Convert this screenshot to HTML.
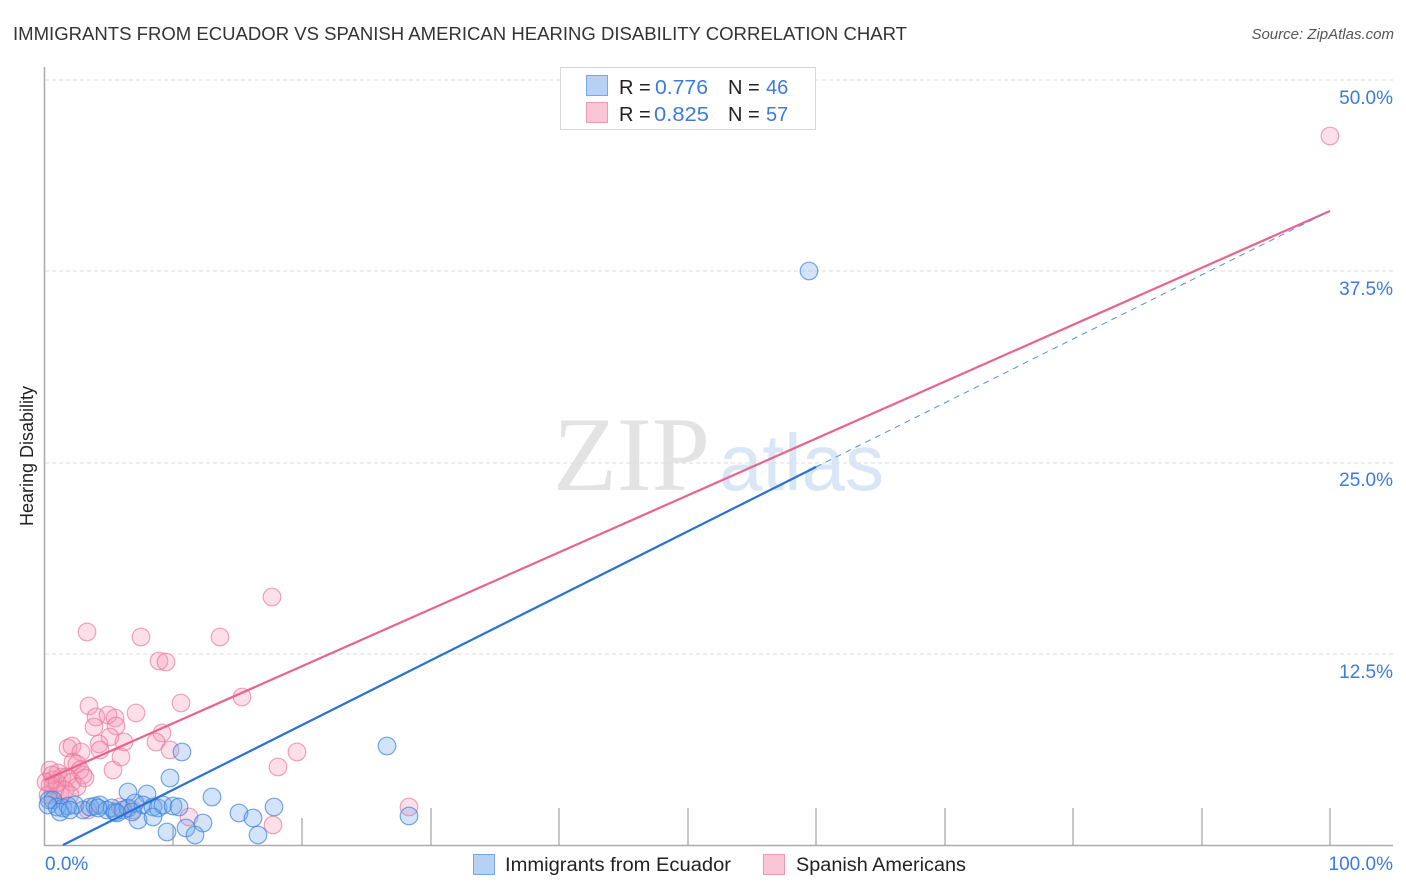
<!DOCTYPE html>
<html><head><meta charset="utf-8"><style>
html,body{margin:0;padding:0;background:#fff;}
svg{display:block;font-family:"Liberation Sans",sans-serif;}
</style></head><body>
<svg width="1406" height="892" viewBox="0 0 1406 892" xmlns="http://www.w3.org/2000/svg">
<rect width="1406" height="892" fill="#fff"/>
<!-- title -->
<text x="13" y="40" font-size="18" fill="#333" textLength="894" lengthAdjust="spacingAndGlyphs">IMMIGRANTS FROM ECUADOR VS SPANISH AMERICAN HEARING DISABILITY CORRELATION CHART</text>
<text x="1394" y="39" font-size="15" fill="#555" font-style="italic" text-anchor="end">Source: ZipAtlas.com</text>

<!-- watermark -->
<text x="553" y="490" font-family="Liberation Serif,serif" font-size="106" fill="#e3e3e3" textLength="157" lengthAdjust="spacingAndGlyphs">ZIP</text>
<text x="719" y="490" font-size="80" fill="#d9e6f6" textLength="165" lengthAdjust="spacingAndGlyphs">atlas</text>

<!-- gridlines -->
<g stroke="#dcdcdc" stroke-width="1" stroke-dasharray="4,3">
<line x1="45" y1="80" x2="1393" y2="80"/>
<line x1="45" y1="271" x2="1393" y2="271"/>
<line x1="45" y1="463" x2="1393" y2="463"/>
<line x1="45" y1="654" x2="1393" y2="654"/>
</g>
<!-- axes -->
<line x1="44.5" y1="67" x2="44.5" y2="845" stroke="#aaa" stroke-width="1.5"/>
<line x1="44" y1="845.5" x2="1393" y2="845.5" stroke="#aaa" stroke-width="1.5"/>
<g stroke="#aaa" stroke-width="1.3">
<line x1="173" y1="826" x2="173" y2="845"/>
<line x1="302" y1="818" x2="302" y2="845"/>
<line x1="431" y1="808" x2="431" y2="845"/>
<line x1="559" y1="808" x2="559" y2="845"/>
<line x1="688" y1="808" x2="688" y2="845"/>
<line x1="816" y1="808" x2="816" y2="845"/>
<line x1="945" y1="808" x2="945" y2="845"/>
<line x1="1073" y1="808" x2="1073" y2="845"/>
<line x1="1202" y1="808" x2="1202" y2="845"/>
<line x1="1330" y1="808" x2="1330" y2="845"/>
</g>

<!-- tick labels -->
<g font-size="19" fill="#3d7bd9">
<text x="1393" y="104" text-anchor="end">50.0%</text>
<text x="1393" y="295" text-anchor="end">37.5%</text>
<text x="1393" y="486" text-anchor="end">25.0%</text>
<text x="1393" y="678" text-anchor="end">12.5%</text>
<text x="45" y="870">0.0%</text>
<text x="1393" y="870" text-anchor="end">100.0%</text>
</g>
<text transform="translate(33,456) rotate(-90)" font-size="18" fill="#222" text-anchor="middle">Hearing Disability</text>

<!-- pink points -->
<g fill="rgba(244,150,178,0.30)" stroke="rgba(232,115,152,0.65)" stroke-width="1.2">
<circle cx="1330" cy="136" r="8.8"/><circle cx="272" cy="597" r="8.8"/><circle cx="87" cy="632" r="8.8"/><circle cx="141" cy="637" r="8.8"/><circle cx="220" cy="637" r="8.8"/><circle cx="159" cy="661" r="8.8"/><circle cx="166" cy="662" r="8.8"/><circle cx="89" cy="706" r="8.8"/><circle cx="181" cy="703" r="8.8"/><circle cx="242" cy="697" r="8.8"/><circle cx="96" cy="717" r="8.8"/><circle cx="108" cy="715" r="8.8"/><circle cx="115" cy="718" r="8.8"/><circle cx="94" cy="727" r="8.8"/><circle cx="116" cy="726" r="8.8"/><circle cx="136" cy="713" r="8.8"/><circle cx="162" cy="733" r="8.8"/><circle cx="156" cy="742" r="8.8"/><circle cx="170" cy="750" r="8.8"/><circle cx="110" cy="737" r="8.8"/><circle cx="124" cy="742" r="8.8"/><circle cx="99" cy="744" r="8.8"/><circle cx="100" cy="750" r="8.8"/><circle cx="68" cy="748" r="8.8"/><circle cx="72" cy="746" r="8.8"/><circle cx="81" cy="752" r="8.8"/><circle cx="73" cy="762" r="8.8"/><circle cx="77" cy="764" r="8.8"/><circle cx="83" cy="775" r="8.8"/><circle cx="80" cy="770" r="8.8"/><circle cx="113" cy="770" r="8.8"/><circle cx="121" cy="757" r="8.8"/><circle cx="297" cy="752" r="8.8"/><circle cx="278" cy="767" r="8.8"/><circle cx="189" cy="817" r="8.8"/><circle cx="273" cy="825" r="8.8"/><circle cx="409" cy="807" r="8.8"/><circle cx="88" cy="810" r="8.8"/><circle cx="120" cy="807" r="8.8"/><circle cx="133" cy="810" r="8.8"/>
<circle cx="50" cy="770" r="8.8"/><circle cx="53" cy="780" r="8.8"/><circle cx="58" cy="773" r="8.8"/><circle cx="62" cy="777" r="8.8"/><circle cx="67" cy="777" r="8.8"/><circle cx="72" cy="782" r="8.8"/><circle cx="77" cy="787" r="8.8"/><circle cx="55" cy="790" r="8.8"/><circle cx="50" cy="785" r="8.8"/><circle cx="60" cy="795" r="8.8"/><circle cx="48" cy="795" r="8.8"/><circle cx="65" cy="790" r="8.8"/><circle cx="85" cy="778" r="8.8"/><circle cx="70" cy="795" r="8.8"/><circle cx="52" cy="775" r="8.8"/><circle cx="46" cy="782" r="8.8"/><circle cx="57" cy="783" r="8.8"/>
</g>
<!-- blue points -->
<g fill="rgba(110,165,232,0.30)" stroke="rgba(60,130,222,0.70)" stroke-width="1.2">
<circle cx="809" cy="271" r="8.8"/><circle cx="387" cy="746" r="8.8"/><circle cx="409" cy="816" r="8.8"/><circle cx="182" cy="752" r="8.8"/><circle cx="170" cy="778" r="8.8"/><circle cx="128" cy="792" r="8.8"/><circle cx="147" cy="794" r="8.8"/><circle cx="212" cy="797" r="8.8"/><circle cx="274" cy="807" r="8.8"/><circle cx="239" cy="813" r="8.8"/><circle cx="253" cy="818" r="8.8"/><circle cx="203" cy="823" r="8.8"/><circle cx="167" cy="832" r="8.8"/><circle cx="186" cy="828" r="8.8"/><circle cx="195" cy="835" r="8.8"/><circle cx="258" cy="835" r="8.8"/>
<circle cx="49" cy="800" r="8.8"/><circle cx="53" cy="800" r="8.8"/><circle cx="57" cy="807" r="8.8"/><circle cx="63" cy="808" r="8.8"/><circle cx="68" cy="806" r="8.8"/><circle cx="75" cy="805" r="8.8"/><circle cx="83" cy="810" r="8.8"/><circle cx="90" cy="807" r="8.8"/><circle cx="95" cy="806" r="8.8"/><circle cx="100" cy="805" r="8.8"/><circle cx="107" cy="810" r="8.8"/><circle cx="112" cy="808" r="8.8"/><circle cx="115" cy="812" r="8.8"/><circle cx="123" cy="810" r="8.8"/><circle cx="128" cy="808" r="8.8"/><circle cx="135" cy="803" r="8.8"/><circle cx="143" cy="805" r="8.8"/><circle cx="153" cy="807" r="8.8"/><circle cx="158" cy="808" r="8.8"/><circle cx="163" cy="805" r="8.8"/><circle cx="173" cy="806" r="8.8"/><circle cx="179" cy="807" r="8.8"/><circle cx="138" cy="820" r="8.8"/><circle cx="153" cy="817" r="8.8"/><circle cx="132" cy="812" r="8.8"/><circle cx="117" cy="813" r="8.8"/><circle cx="48" cy="805" r="8.8"/><circle cx="60" cy="812" r="8.8"/><circle cx="70" cy="810" r="8.8"/><circle cx="98" cy="808" r="8.8"/>
</g>

<!-- regression lines -->
<line x1="45" y1="780" x2="1330" y2="211" stroke="#e8638d" stroke-width="2.2"/>
<line x1="63" y1="845" x2="816" y2="467" stroke="#2c70d6" stroke-width="2.2"/>
<line x1="816" y1="467" x2="1330" y2="211" stroke="#5b8fdc" stroke-width="1" stroke-dasharray="6,5"/>

<!-- top legend -->
<rect x="560.5" y="67.5" width="255" height="62" fill="#fff" stroke="#d8d8d8" stroke-width="1"/>
<rect x="586.5" y="75.5" width="21" height="20" fill="#b7d1f5" stroke="#7aa8e6" stroke-width="1"/>
<rect x="586.5" y="102.5" width="21" height="20" fill="#f9c6d5" stroke="#ec9ab4" stroke-width="1"/>
<g font-size="20">
<text x="619" y="94" fill="#222">R =</text>
<text x="655" y="94" fill="#3d7bd9" textLength="53" lengthAdjust="spacingAndGlyphs">0.776</text>
<text x="728" y="94" fill="#222">N =</text>
<text x="766" y="94" fill="#3d7bd9">46</text>
<text x="619" y="121" fill="#222">R =</text>
<text x="654" y="121" fill="#3d7bd9" textLength="55" lengthAdjust="spacingAndGlyphs">0.825</text>
<text x="728" y="121" fill="#222">N =</text>
<text x="766" y="121" fill="#3d7bd9">57</text>
</g>

<!-- bottom legend -->
<rect x="473.5" y="854.5" width="21" height="20" fill="#b7d1f5" stroke="#7aa8e6" stroke-width="1"/>
<text x="505" y="871" font-size="19" fill="#222" textLength="226" lengthAdjust="spacingAndGlyphs">Immigrants from Ecuador</text>
<rect x="763.5" y="854.5" width="21" height="20" fill="#f9c6d5" stroke="#ec9ab4" stroke-width="1"/>
<text x="796" y="871" font-size="19" fill="#222" textLength="170" lengthAdjust="spacingAndGlyphs">Spanish Americans</text>
</svg>
</body></html>
